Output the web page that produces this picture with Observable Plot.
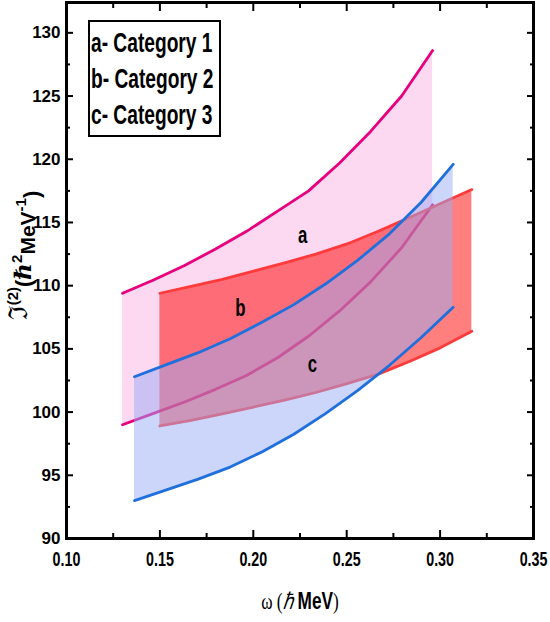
<!DOCTYPE html>
<html><head><meta charset="utf-8">
<script src="https://cdn.jsdelivr.net/npm/d3@7"></script>
<script src="https://cdn.jsdelivr.net/npm/@observablehq/plot@0.6"></script>
<style>
body{margin:0;background:#fff;}
#wrap{position:relative;width:550px;height:622px;}
#legend{position:absolute;left:88px;top:20px;width:133px;height:117px;box-sizing:border-box;border:2px solid #000;background:#fff;
 font-family:"Liberation Sans",Arial,sans-serif;font-weight:bold;font-size:27px;line-height:36px;padding:3px 0 0 1px;color:#000;white-space:nowrap;overflow:hidden;}
#legend div{transform:scaleX(0.71);transform-origin:0 50%;}
</style></head><body><div id="wrap"></div>
<script>
// Category 1 (a)
const omegaA = [0.1300,0.1466,0.1632,0.1798,0.1964,0.2130,0.2296,0.2462,0.2628,0.2794,0.2960];
const upperA = [109.4,110.45,111.6,112.9,114.3,115.9,117.5,119.7,122.2,125.0,128.6];
const lowerA = [99.0,99.9,100.8,101.8,102.9,104.3,106.0,108.0,110.3,113.0,116.4];
// Category 2 (b)
const omegaB = [0.1500,0.1667,0.1834,0.2001,0.2168,0.2335,0.2502,0.2669,0.2836,0.3003,0.3170];
const upperB = [109.4,109.95,110.5,111.15,111.8,112.5,113.3,114.3,115.4,116.5,117.6];
const lowerB = [98.9,99.35,99.85,100.4,100.95,101.55,102.25,103.0,104.0,105.1,106.4];
// Category 3 (c)
const omegaC = [0.1364,0.1535,0.1705,0.1876,0.2046,0.2217,0.2388,0.2558,0.2729,0.2899,0.3070];
const upperC = [102.8,103.75,104.7,105.8,107.1,108.5,110.15,112.0,114.1,116.6,119.6];
const lowerC = [93.0,93.85,94.7,95.65,96.85,98.25,99.9,101.7,103.7,105.9,108.3];

const legendItems = ["a- Category 1","b- Category 2","c- Category 3"];
const bandLabels = ["a","b","c"];
const bandLabelX = [0.2264,0.1931,0.2317];
const bandLabelY = [114.0,108.2,103.8];

const xMajor = [0.10,0.15,0.20,0.25,0.30,0.35];
const xMinor = [0.125,0.175,0.225,0.275,0.325];
const yMajor = [90,95,100,105,110,115,120,125,130];
const yMinor = [92.5,97.5,102.5,107.5,112.5,117.5,122.5,127.5];

const rows = (xs, lo, hi) => xs.map((x,i)=>({x, lo: lo[i], hi: hi[i]}));
const A = rows(omegaA, lowerA, upperA), B = rows(omegaB, lowerB, upperB), C = rows(omegaC, lowerC, upperC);
const labels = bandLabels.map((t,i)=>({t, x: bandLabelX[i], y: bandLabelY[i]}));

const sans = '"Liberation Sans",Arial,sans-serif';
const serif = '"DejaVu Serif","Liberation Serif",serif';
const tickOpts = {tickFormat: () => "", label: null, strokeWidth: 2};
const lw = 2.8;

const chart = Plot.plot({
  width: 550, height: 622,
  marginLeft: 66, marginRight: 17, marginTop: 2, marginBottom: 84,
  x: {domain: [0.10, 0.35]},
  y: {domain: [90, 132.4]},
  style: {fontFamily: sans, background: "#fff", color: "#000"},
  marks: [
    Plot.areaY(A, {x: "x", y1: "lo", y2: "hi", fill: "#fcd9f0"}),
    Plot.lineY(A, {x: "x", y: "hi", stroke: "#e8007f", strokeWidth: lw}),
    Plot.lineY(A, {x: "x", y: "lo", stroke: "#e8007f", strokeWidth: lw}),
    Plot.areaY(B, {x: "x", y1: "lo", y2: "hi", fill: "#ff0000", fillOpacity: 0.5}),
    Plot.lineY(B, {x: "x", y: "hi", stroke: "#ff3a3a", strokeWidth: lw}),
    Plot.lineY(B, {x: "x", y: "lo", stroke: "#ff3a3a", strokeWidth: lw}),
    Plot.areaY(C, {x: "x", y1: "lo", y2: "hi", fill: "#99abf5", fillOpacity: 0.5}),
    Plot.lineY(C, {x: "x", y: "hi", stroke: "#1f6fdc", strokeWidth: lw}),
    Plot.lineY(C, {x: "x", y: "lo", stroke: "#1f6fdc", strokeWidth: lw}),
    Plot.text(labels, {x: "x", y: "y", text: "t", fontSize: 24, fontWeight: "bold", fill: "#000", className: "bandlab"}),
    Plot.frame({stroke: "#000", strokeWidth: 3}),
    Plot.axisX(xMajor, {anchor: "bottom", tickSize: -8, ...tickOpts}),
    Plot.axisX(xMinor, {anchor: "bottom", tickSize: -5, ...tickOpts}),
    Plot.axisX(xMajor, {anchor: "top", tickSize: -8, ...tickOpts}),
    Plot.axisX(xMinor, {anchor: "top", tickSize: -5, ...tickOpts}),
    Plot.axisY(yMajor, {anchor: "left", tickSize: -7, ...tickOpts}),
    Plot.axisY(yMinor, {anchor: "left", tickSize: -4, ...tickOpts}),
    Plot.axisY(yMajor, {anchor: "right", tickSize: -7, ...tickOpts}),
    Plot.axisY(yMinor, {anchor: "right", tickSize: -4, ...tickOpts}),
    Plot.axisX(xMajor, {anchor: "bottom", tickSize: 0, tickPadding: 13, label: null, tickFormat: d3.format(".2f"), fontSize: 21, fontWeight: "bold", className: "xticklab"}),
    Plot.axisY(yMajor, {anchor: "left", tickSize: 0, tickPadding: 6, label: null, tickFormat: d3.format("d"), fontSize: 17, fontWeight: "bold"}),
    Plot.text(["ylabel"], {frameAnchor: "left", textAnchor: "middle", lineAnchor: "middle", dx: -46, dy: -15, rotate: -90, text: d => d, fontSize: 21, className: "ylab"}),
    Plot.text(["xlabel"], {frameAnchor: "bottom", textAnchor: "middle", lineAnchor: "middle", dx: 0, dy: 63, text: d => d, fontSize: 23, className: "xlab"})
  ]
});

const wrap = document.getElementById("wrap");
wrap.appendChild(chart);

// horizontal condensing of texts (reference uses a condensed face): wrap each in a scaled group
function condense(sel, k) {
  sel.each(function() {
    const g = document.createElementNS("http://www.w3.org/2000/svg", "g");
    this.parentNode.insertBefore(g, this);
    g.appendChild(this);
    const bb = g.getBBox();
    const cx = bb.x + bb.width / 2;
    g.setAttribute("transform", `translate(${cx},0) scale(${k},1) translate(${-cx},0)`);
  });
}

// rich text for axis titles
const yl = d3.select(chart).select("g.ylab text");
yl.text(null).attr("font-weight", "bold");
yl.append("tspan").attr("font-family", serif).attr("font-weight", "normal").attr("font-size", 26).text("ℑ");
yl.append("tspan").attr("font-size", 15).attr("dy", "-0.6em").text("(2)");
yl.append("tspan").attr("dy", "0.6em").attr("font-size", 22).text("(");
yl.append("tspan").attr("font-family", serif).attr("font-style", "italic").attr("font-size", 23).text("ℏ");
yl.append("tspan").attr("font-size", 15).attr("dy", "-0.6em").text("2");
yl.append("tspan").attr("dy", "0.6em").text("MeV");
yl.append("tspan").attr("font-size", 15).attr("dy", "-0.6em").text("-1");
yl.append("tspan").attr("dy", "0.6em").attr("font-size", 22).text(")");

const xl = d3.select(chart).select("g.xlab text");
xl.text(null);
xl.append("tspan").attr("font-family", '"Liberation Serif",serif').text("ω (");
xl.append("tspan").attr("font-family", '"Liberation Serif",serif').attr("font-style", "italic").text("ℏ");
xl.append("tspan").attr("font-weight", "bold").text(" MeV");
xl.append("tspan").attr("font-family", '"Liberation Serif",serif').text(")");

condense(d3.select(chart).selectAll("g.xticklab text"), 0.68);
condense(d3.select(chart).selectAll("g.bandlab text"), 0.7);
condense(xl, 0.75);

const lg = document.createElement("div");
lg.id = "legend";
lg.innerHTML = legendItems.map(t => `<div>${t}</div>`).join("");
wrap.appendChild(lg);
</script>
</body></html>
